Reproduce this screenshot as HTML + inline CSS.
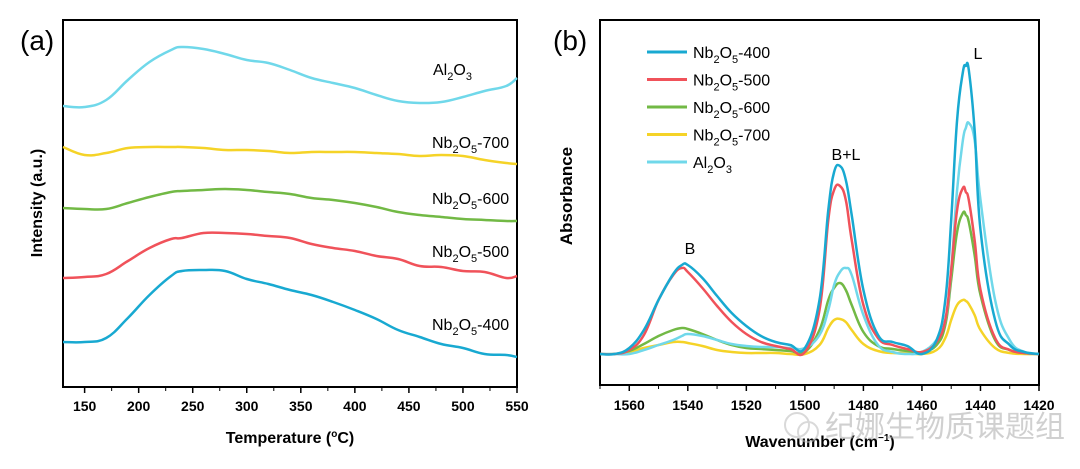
<!DOCTYPE html>
<html><head><meta charset="utf-8"><style>
body{margin:0;background:#fff;}
svg{display:block;font-family:"Liberation Sans","Noto Sans CJK SC",sans-serif;}
</style></head><body>
<svg id="fig" width="1080" height="469" viewBox="0 0 1080 469">
<text x="20" y="50" font-size="28">(a)</text>
<text x="553" y="50" font-size="28">(b)</text>
<g id="left"></g>
<g id="right"></g>
<g opacity="0.55">
<circle cx="797" cy="425" r="12" fill="none" stroke="#bbb" stroke-width="2"/>
<circle cx="808" cy="432" r="10" fill="none" stroke="#bbb" stroke-width="2"/>
<text x="825" y="437" font-size="30" fill="#aaa" font-family="'Noto Sans CJK SC',sans-serif">纪娜生物质课题组</text>
</g>
</svg>
<script>
const NS='http://www.w3.org/2000/svg';
// ---- Panel (a) data ----
const tempX=[130,150,170,190,210,230,240,260,280,300,320,340,360,380,400,420,440,460,480,500,520,540,550];
const tpdAl=[281,280,287,307,325,337,340,338,333,327,324,317,309,304,299,292,286,284,285,290,296,301,309];
const tpd700=[240,232,234,239,240,240,240,239,237,237,236,234,235,235,235,234,233,231,232,231,227,224,223];
const tpd600=[179,178,178,184,190,195,196,197,198,197,195,193,189,187,184,180,175,172,170,168,167,166,166];
const tpd500=[109,110,113,126,139,148,149,154,154,153,151,149,143,139,136,131,128,121,120,116,115,109,111];
const tpd400=[45,45,49,69,92,111,116,117,116,108,103,97,92,85,77,68,57,50,43,39,33,32,30];
const tempTicks=[150,200,250,300,350,400,450,500,550];
// ---- Panel (b) data ----
const waveX=[1570,1565,1560,1555,1550,1545,1542,1540,1535,1530,1525,1520,1515,1510,1505,1500,1495,1492,1490,1488,1486,1484,1480,1475,1470,1465,1460,1455,1452,1450,1448,1446,1445,1444,1442,1440,1435,1430,1425,1420];
const pyB400=[354,354,348,330,300,274,265,265,278,296,313,326,336,342,345,348,300,210,172,166,180,215,290,335,342,346,354,340,300,220,120,72,66,70,130,230,320,345,352,354];
const pyB500=[354,354,350,335,300,275,268,272,288,306,322,334,342,346,349,352,310,220,190,186,200,240,305,338,345,349,352,342,320,270,210,188,192,200,240,290,338,350,353,354];
const pyB600=[354,354,351,344,336,330,328,329,334,340,345,348,349,350,351,352,330,300,288,283,290,305,332,346,349,351,352,345,325,280,232,213,215,222,255,295,340,350,353,354];
const pyB700=[354,354,352,348,345,342,342,343,346,350,352,353,353,353,354,354,345,328,320,319,322,330,344,351,353,353,354,350,338,320,305,300,301,304,315,330,348,353,354,354];
const pyBAl=[354,354,354,350,345,340,336,334,336,340,344,346,347,347,348,348,335,310,285,272,268,275,315,345,352,354,352,340,320,270,190,140,128,123,140,200,300,340,352,354];
const waveTicks=[1560,1540,1520,1500,1480,1460,1440,1420];
const absB400=pyB400.map(v=>354-v),absB500=pyB500.map(v=>354-v),absB600=pyB600.map(v=>354-v),absB700=pyB700.map(v=>354-v),absBAl=pyBAl.map(v=>354-v);

function el(tag,attrs,parent){const e=document.createElementNS(NS,tag);for(const k in attrs)e.setAttribute(k,attrs[k]);parent.appendChild(e);return e;}
function linePath(xs,ys,fx,fy){
  const P=xs.map((x,i)=>[fx(x),fy(ys[i])]);
  let d='M'+P[0][0].toFixed(1)+','+P[0][1].toFixed(1);
  for(let i=0;i<P.length-1;i++){
    const p0=P[i-1]||P[i],p1=P[i],p2=P[i+1],p3=P[i+2]||P[i+1];
    const t=0.2;
    const c1=[p1[0]+(p2[0]-p0[0])*t,p1[1]+(p2[1]-p0[1])*t];
    const c2=[p2[0]-(p3[0]-p1[0])*t,p2[1]-(p3[1]-p1[1])*t];
    d+=' C'+c1[0].toFixed(1)+','+c1[1].toFixed(1)+' '+c2[0].toFixed(1)+','+c2[1].toFixed(1)+' '+p2[0].toFixed(1)+','+p2[1].toFixed(1);
  }
  return d;
}

// Panel a
const L=document.getElementById('left');
const ax=v=>63+(v-130)*(454/420);
const ay=v=>387-v;
el('rect',{x:63,y:20,width:454,height:367,fill:'none',stroke:'#000','stroke-width':2},L);
tempTicks.forEach(t=>{
  el('line',{x1:ax(t),x2:ax(t),y1:387,y2:393,stroke:'#000','stroke-width':1.5},L);
  const tx=el('text',{x:ax(t),y:411,'font-size':14,'font-weight':'bold','text-anchor':'middle'},L);
  tx.textContent=t;
  
  
  if(t-25>=130) el('line',{x1:ax(t-25),x2:ax(t-25),y1:387,y2:391,stroke:'#000','stroke-width':1},L);
});
const sA=[[tpdAl,'#70d8ea','al2o3'],[tpd700,'#f5d327','nb2o5-700'],[tpd600,'#72b945','nb2o5-600'],[tpd500,'#f0525a','nb2o5-500'],[tpd400,'#18a9d1','nb2o5-400']];
sA.forEach(s=>{
  const p=el('path',{d:linePath(tempX,s[0],ax,ay),fill:'none',stroke:s[1],'stroke-width':2.5,'stroke-linejoin':'round'},L);
  
  
});
const labA=[['Al','2','O','3','',75],['Nb','2','O','5','-700',148],['Nb','2','O','5','-600',204],['Nb','2','O','5','-500',257],['Nb','2','O','5','-400',330]];
labA.forEach((l,i)=>{
  const t=el('text',{x:l[0]=='Al'?433:432,y:l[5],'font-size':16},L);
  t.innerHTML=l[0]+'<tspan font-size="11" dy="5">'+l[1]+'</tspan><tspan dy="-5">'+l[2]+'</tspan><tspan font-size="11" dy="5">'+l[3]+'</tspan><tspan dy="-5">'+l[4]+'</tspan>';
  
  
});
const xtA=el('text',{x:290,y:443,'font-size':16,'font-weight':'bold','text-anchor':'middle'},L);
xtA.innerHTML='Temperature (<tspan font-size="10" dy="-6">o</tspan><tspan dy="6">C)</tspan>';


const ytA=el('text',{x:0,y:0,'font-size':16,'font-weight':'bold','text-anchor':'middle',transform:'translate(42,203) rotate(-90)'},L);
ytA.textContent='Intensity (a.u.)';



// Panel b
const R=document.getElementById('right');
const bx=v=>600+(1570-v)*(439/150);
const by=v=>354-v;
el('rect',{x:600,y:20,width:439,height:365,fill:'none',stroke:'#000','stroke-width':2},R);
waveTicks.forEach(t=>{
  el('line',{x1:bx(t),x2:bx(t),y1:385,y2:391,stroke:'#000','stroke-width':1.5},R);
  el('line',{x1:bx(t+10),x2:bx(t+10),y1:385,y2:389,stroke:'#000','stroke-width':1},R);
  const tx=el('text',{x:bx(t),y:410,'font-size':14,'font-weight':'bold','text-anchor':'middle'},R);
  tx.textContent=t;
  
  
});
const sB=[[absB700,'#f5d327','nb2o5-700'],[absB600,'#72b945','nb2o5-600'],[absBAl,'#70d8ea','al2o3'],[absB500,'#f0525a','nb2o5-500'],[absB400,'#18a9d1','nb2o5-400']];
sB.forEach(s=>{
  const p=el('path',{d:linePath(waveX,s[0],bx,by),fill:'none',stroke:s[1],'stroke-width':2.5,'stroke-linejoin':'round'},R);
  
  
});
const leg=[['#18a9d1','Nb','5','-400'],['#f0525a','Nb','5','-500'],['#72b945','Nb','5','-600'],['#f5d327','Nb','5','-700'],['#70d8ea','Al','3','']];
leg.forEach((l,i)=>{
  const y=52+i*27.5;
  const ln=el('line',{x1:647,x2:687,y1:y,y2:y,stroke:l[0],'stroke-width':3},R);
  
  
  const t=el('text',{x:693,y:y+6,'font-size':16},R);
  t.innerHTML=l[1]+'<tspan font-size="11" dy="5">2</tspan><tspan dy="-5">O</tspan><tspan font-size="11" dy="5">'+l[2]+'</tspan><tspan dy="-5">'+l[3]+'</tspan>';
  
  
});
[['B',690,254],['B+L',846,160],['L',978,59]].forEach(a=>{
  const t=el('text',{x:a[1],y:a[2],'font-size':16,'text-anchor':'middle'},R);
  t.textContent=a[0];
  
  
});
const xtB=el('text',{x:820,y:447,'font-size':16,'font-weight':'bold','text-anchor':'middle'},R);
xtB.innerHTML='Wavenumber (cm<tspan font-size="10" dy="-6">−1</tspan><tspan dy="6">)</tspan>';


const ytB=el('text',{x:0,y:0,'font-size':17,'font-weight':'bold','text-anchor':'middle',transform:'translate(572,196) rotate(-90)'},R);
ytB.textContent='Absorbance';


</script>
</body></html>
